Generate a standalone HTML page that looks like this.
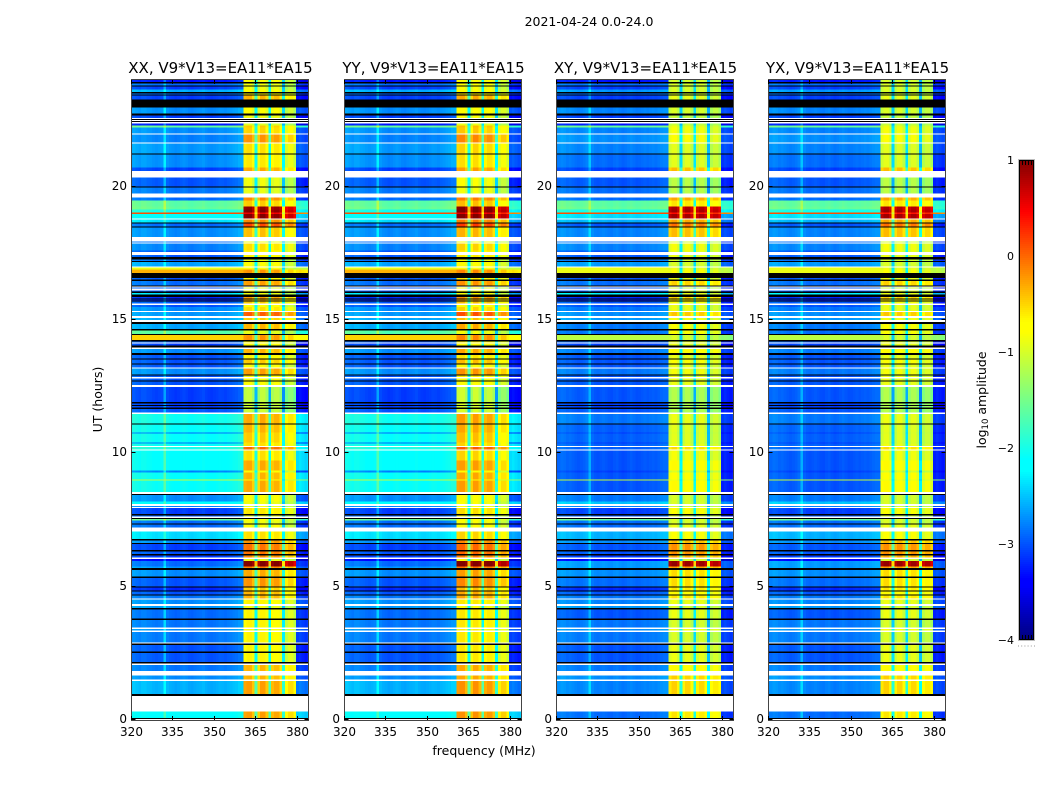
<!DOCTYPE html>
<html lang="en">
<head>
<meta charset="utf-8">
<title>Spectrogram 2021-04-24</title>
<style>
html,body{margin:0;padding:0;background:#fff;width:1050px;height:800px;overflow:hidden}
svg{display:block}
text{font-family:"DejaVu Sans","Liberation Sans",sans-serif;fill:#000}
</style>
</head>
<body>
<svg id="chart" width="1050" height="800" viewBox="0 0 1050 800" xmlns="http://www.w3.org/2000/svg">
<text x="589" y="26" text-anchor="middle" font-size="12.5">2021-04-24 0.0-24.0</text>
<text x="484" y="755" text-anchor="middle" font-size="12.5">frequency (MHz)</text>
<text x="102" y="399.5" text-anchor="middle" font-size="12.5" transform="rotate(-90 102 399.5)">UT (hours)</text>
<text x="986" y="400" text-anchor="middle" font-size="12.5" transform="rotate(-90 986 400)">log<tspan font-size="8.5" dy="2">10</tspan><tspan dy="-2"> amplitude</tspan></text>
</svg>
<script>
const W = null;
const K = -9;

/* Polarisation panels */
const panelTitles = ["XX, V9*V13=EA11*EA15", "YY, V9*V13=EA11*EA15", "XY, V9*V13=EA11*EA15", "YX, V9*V13=EA11*EA15"];
const panelNames = ["xx", "yy", "xy", "yx"];
const panelLefts = [131.5, 344.5, 556.5, 768.5];

/* Axis tick labels */
const freqTicks = [320, 335, 350, 365, 380];
const utTicks = [0, 5, 10, 15, 20];
const colorbarTicks = [1, 0, -1, -2, -3, -4];
const colorbarMinorTicks = [0.2, 0.4, 0.6, 0.8];

/* Lower edge (UT hours) of each time row, top of the plot downward; the first row starts at 24 h */
const rowBottoms = [
23.925,23.869,23.794,23.756,23.644,23.55,23.494,23.456,23.419,23.269,
22.969,22.744,22.669,22.575,22.538,22.5,22.463,22.425,22.369,22.294,
22.219,21.994,21.956,21.656,21.619,21.244,21.206,20.719,20.588,20.344,
20.006,19.969,19.744,19.594,19.481,19.256,19.144,19.031,18.975,18.806,
18.769,18.656,18.619,18.506,18.469,18.113,17.944,17.906,17.869,17.606,
17.55,17.438,17.363,17.269,17.213,17.175,17.006,16.969,16.894,16.755,
16.575,16.519,16.463,16.294,16.256,16.219,16.181,16.106,16.069,16.013,
15.956,15.863,15.806,15.769,15.731,15.694,15.619,15.563,15.488,15.338,
15.3,15.143,15.068,14.993,14.918,14.858,14.655,14.606,14.475,14.438,
14.258,14.194,14.156,14.119,14.044,13.969,13.913,13.763,13.688,13.556,
13.519,13.369,13.331,13.219,13.181,12.956,12.919,12.863,12.806,12.731,
12.694,12.563,12.488,11.925,11.869,11.82,11.775,11.719,11.67,11.531,
11.475,11.119,11.081,10.781,10.744,10.406,10.369,10.283,10.238,10.144,
10.106,9.731,9.356,9.281,9.019,8.981,8.543,8.475,8.438,8.194,
8.1,8.025,7.988,7.95,7.725,7.669,7.631,7.575,7.538,7.481,
7.369,7.331,7.219,7.069,6.78,6.731,6.645,6.6,6.375,6.319,
6.225,6.169,6.094,6.038,5.955,5.756,5.7,5.625,5.381,5.325,
5.006,4.969,4.856,4.819,4.706,4.669,4.556,4.519,4.35,4.275,
4.2,4.144,3.806,3.75,3.469,3.413,3.356,3.3,2.906,2.869,
2.813,2.569,2.513,2.175,2.119,2.063,1.838,1.669,1.519,1.463,
0.975,0.9,0.319,0.075,0.038,0
];

/* log10 amplitude below 360 MHz, XX and YY hands (W = flagged white, K = black) */
const parallelBase = [
-3.3,K,-2.9,K,-3.1,-2.6,K,-2.9,K,-3.1,
K,-2.75,K,-3.1,W,K,W,K,W,-3.3,
-1.6,-2.75,W,-2.8,W,-2.7,K,-2.75,-3.1,W,
-3,K,-2.85,W,-2.9,-1.65,-1.6,-2.05,0.1,-2.2,
W,-2.4,K,-2.9,K,-2.75,W,-2.9,W,-2.8,
-3,W,-3,K,-2.9,K,-2.65,W,-0.9,-0.35,
K,-3,K,-2.9,K,W,-3,W,-3,K,
-2.4,K,-3.2,K,-3.2,K,-3,W,-3,-2.75,
W,-2.7,W,-2.65,W,K,-2.65,K,-1.7,K,
-0.5,K,-3,W,-3.1,K,W,-2.75,K,-3,
K,-3,K,-3,W,-2.75,K,-3,W,-3,
K,-3,W,-3.1,K,-3.1,K,-3.1,K,-3,
W,-2.05,K,-2.1,-2.9,-2.1,-2.9,-2.1,W,-2,
W,-2.15,-2.15,-2.8,-2.1,-1.1,-2.1,W,K,-2.75,
-2.2,W,-2.8,W,-3.1,K,-3,W,K,-1.6,
-2.9,K,-2.9,W,-2.4,K,-2.75,K,-3.1,K,
-3,K,-3.1,W,-3.4,-2.9,-2.7,K,-2.75,K,
-3,K,-3.2,K,-3,K,-2.85,W,-2.75,W,
-2.7,K,-2.9,K,-2.85,W,-2.75,W,-2.85,W,
K,-3,K,-3,K,W,-2.85,W,-2.75,W,
-2.6,K,W,-2.2,K,W
];

/* log10 amplitude across the 360-380 MHz bright band, XX and YY hands */
const parallelBand = [
-0.9,K,-1,K,-1,-0.9,K,-0.8,K,-0.5,
K,-0.9,K,-1,W,K,W,K,W,-1.1,
-0.6,-0.65,W,-0.35,W,-0.7,K,-0.75,-0.45,W,
-1,K,-1.05,W,-0.3,-0.6,0.8,0.85,0.4,0.85,
W,-0.3,K,0,K,-0.55,W,-1,W,-0.7,
-0.8,W,-0.8,K,-1,K,-0.9,W,-0.9,-0.35,
K,-0.8,K,-0.4,K,W,-1,W,-0.9,K,
-1,K,-0.4,K,-0.5,K,-0.6,W,-0.9,-0.7,
W,-0.1,W,-0.6,W,K,-0.5,K,-1.05,K,
-0.35,K,-0.8,W,-0.9,K,W,-0.5,K,-0.8,
K,-0.6,K,-0.9,W,-0.4,K,-0.8,W,-0.9,
K,-0.9,W,-1.25,K,-1.2,K,-1.2,K,-1.2,
W,-0.45,K,-0.5,-0.6,-0.6,-0.7,-0.7,W,-0.15,
W,-0.7,-0.45,-0.9,-0.5,-0.9,-0.45,W,K,-0.9,
-1,W,-1,W,-0.75,K,-1,W,K,-0.9,
-1,K,-0.9,W,-0.7,K,-0.35,K,-0.2,K,
-0.2,K,-0.3,W,-1,0.9,-0.25,K,-0.45,K,
-0.35,K,-0.6,K,-0.5,K,-0.5,W,-0.8,W,
-1,K,-0.8,K,-0.8,W,-0.8,W,-0.8,W,
K,-0.8,K,-0.8,K,W,-0.5,W,-0.5,W,
-0.4,K,W,-0.4,K,W
];

/* log10 amplitude below 360 MHz, XY and YX hands */
const crossBase = [
-3.3,K,-2.9,K,-3.1,-2.7,K,-2.9,K,-3.1,
K,-2.8,K,-3.1,W,K,W,K,W,-3.3,
-1.6,-2.8,W,-2.75,W,-2.8,K,-2.9,-3.1,W,
-3,K,-2.9,W,-2.9,-1.65,-1.6,-2.05,0.1,-2.4,
W,-2.6,K,-3,K,-2.8,W,-2.9,W,-2.8,
-3,W,-3,K,-2.9,K,-2.7,W,-0.9,-0.9,
K,-3,K,-2.9,K,W,-3,W,-3,K,
-2.3,K,-3.2,K,-3.2,K,-3,W,-3,-2.85,
W,-2.75,W,-2.7,W,K,-2.85,K,-2.9,K,
-1.15,K,-3,W,-3.1,K,W,-2.85,K,-3,
K,-3,K,-3,W,-2.85,K,-3,W,-3,
K,-3,W,-3,K,-3.1,K,-3.1,K,-3,
W,-2.85,K,-2.95,-3.1,-2.95,-3.1,-2.95,W,-2.95,
W,-3,-3,-3.1,-3,-1.1,-3,W,K,-2.85,
-2.5,W,-2.8,W,-3.1,K,-3,W,K,-1.6,
-2.9,K,-2.9,W,-2.6,K,-2.75,K,-3,K,
-3,K,-3.1,W,-3.4,-2.7,-2.7,K,-2.75,K,
-2.9,K,-3.2,K,-3,K,-2.85,W,-2.8,W,
-2.7,K,-3,K,-2.85,W,-2.75,W,-2.85,W,
K,-3,K,-3,K,W,-2.85,W,-2.75,W,
-2.8,K,W,-2.9,K,W
];

/* log10 amplitude across the 360-380 MHz bright band, XY and YX hands */
const crossBand = [
-1,K,-1,K,-1,-1,K,-1,K,-0.9,
K,-1,K,-1.1,W,K,W,K,W,-1.1,
-0.9,-0.85,W,-0.8,W,-0.95,K,-0.95,-0.4,W,
-1.15,K,-1.15,W,-0.3,-0.6,0.8,0.85,0.4,0.85,
W,-0.3,K,-0.05,K,-0.4,W,-1,W,-0.85,
-0.9,W,-0.9,K,-1,K,-1,W,-0.9,-0.8,
K,-0.9,K,-0.5,K,W,-1,W,-0.9,K,
-0.9,K,-0.5,K,-0.6,K,-0.8,W,-0.9,-0.9,
W,-0.45,W,-0.85,W,K,-0.8,K,-0.8,K,
-1,K,-0.9,W,-0.9,K,W,-0.7,K,-0.9,
K,-0.8,K,-0.9,W,-0.85,K,-0.9,W,-0.9,
K,-0.9,W,-1.2,K,-1.2,K,-1.2,K,-1.2,
W,-0.9,K,-0.95,-1,-0.95,-1,-0.9,W,-0.55,
W,-0.85,-0.7,-1,-0.75,-0.9,-0.7,W,K,-1,
-1,W,-1,W,-0.8,K,-1,W,K,-1,
-1,K,-0.9,W,-0.8,K,-0.4,K,-0.2,K,
-0.2,K,-0.3,W,-1,0.9,-0.25,K,-0.55,K,
-0.55,K,-0.6,K,-0.7,K,-0.6,W,-0.9,W,
-1,K,-0.9,K,-1,W,-0.8,W,-1,W,
K,-0.9,K,-0.9,K,W,-0.7,W,-0.5,W,
-0.5,K,W,-0.6,K,W
];

/* Per-channel offsets relative to a row's level: channels 320-360, 361-379, 380-384 MHz */
const parallelBaseProfile = [0.1,0.12,0.08,0.05,0.1,0.1,0.06,0.05,0.02,0,0.02,0.05,0.45,0.05,0,-0.02,-0.05,-0.03,0,0.03,0,-0.04,-0.05,-0.02,0,0.02,0.05,0,-0.03,-0.04,-0.02,0,0.03,0.02,0,0.03,0.05,0.08,0.1,0.15,0.15];
const crossBaseProfile = [0.05,0.08,0.12,0.1,0.06,0.08,0.05,0.02,0,0.02,0.05,0.1,0.4,0.05,0,-0.02,0,0.02,0,-0.03,-0.04,0,0.02,-0.02,-0.05,-0.03,0,0.03,0,-0.03,-0.02,0,0.02,0,0.02,0.04,0.02,0.05,0.08,0.1,0.1];
const parallelBandProfile = [0.1,0.15,0.15,-0.05,-1.3,-0.1,0.15,0.15,-0.05,-1.35,0,0.1,0.1,-0.1,-1.5,-0.3,-0.15,-0.15,-0.35];
const crossBandProfile = [-0.1,0.02,0.02,-0.15,-1.45,-0.15,0,0,-0.2,-1.4,-0.15,-0.02,-0.02,-0.2,-1.6,-0.25,-0.12,-0.12,-0.3];
const tailProfile = [-0.25,-0.2,-0.25,-0.3,-0.25];
const panelBandOffsets = [0, 0.06, 0, 0];

/* Matplotlib jet colormap anchors: position, red, green, blue */
const jetPositions = [0, 0.11, 0.125, 0.35, 0.375, 0.64, 0.66, 0.89, 1];
const jetReds = [0, 0, 0, 0, 0, 1, 1, 1, 0.5];
const jetGreens = [0, 0, 0, 1, 1, 1, 1, 0, 0];
const jetBlues = [0.5, 1, 1, 1, 1, 0, 0, 0, 0];
const colorMin = -4;
const colorMax = 1;

const svgNS = "http://www.w3.org/2000/svg";
const chart = document.getElementById("chart");
const plotTop = 80;
const plotBottom = 720;
const plotWidth = 177;
const channelCount = 65;
const freqMin = 320;
const freqMax = 384;
const utMax = 24;
const barLeft = 1019;
const barWidth = 15;
const barTop = 160;
const barBottom = 640;

function yScale(hours) {
  return plotBottom - (hours / utMax) * (plotBottom - plotTop);
}
function xScale(left, freq) {
  return left + (freq - freqMin) / (freqMax - freqMin) * plotWidth;
}
function barScale(value) {
  return barBottom - (value - colorMin) / (colorMax - colorMin) * (barBottom - barTop);
}
function crisp(position) {
  return Math.round(position - 0.5) + 0.5;
}
function lerpStops(t, channel) {
  for (let i = 1; i < jetPositions.length; i++) {
    if (t <= jetPositions[i]) {
      const f = (t - jetPositions[i - 1]) / (jetPositions[i] - jetPositions[i - 1]);
      return channel[i - 1] + f * (channel[i] - channel[i - 1]);
    }
  }
  return channel[channel.length - 1];
}
function jetColor(value) {
  if (value < colorMin) return "#000";
  const t = Math.min(1, (value - colorMin) / (colorMax - colorMin));
  const r = Math.round(255 * lerpStops(t, jetReds));
  const g = Math.round(255 * lerpStops(t, jetGreens));
  const b = Math.round(255 * lerpStops(t, jetBlues));
  return "rgb(" + r + "," + g + "," + b + ")";
}
function make(tag, attrs, parent) {
  const el = document.createElementNS(svgNS, tag);
  for (const key in attrs) el.setAttribute(key, attrs[key]);
  parent.appendChild(el);
  return el;
}
function cellValue(panel, row, channel) {
  const isParallel = panel < 2;
  const base = isParallel ? parallelBase[row] : crossBase[row];
  const band = isParallel ? parallelBand[row] : crossBand[row];
  if (base === W) return W;
  if (base === K) return K;
  if (channel <= 40) {
    const profile = isParallel ? parallelBaseProfile : crossBaseProfile;
    return base < -1.2 ? base + profile[channel] : base;
  }
  if (channel < 60) return band + panelBandOffsets[panel] + (isParallel ? parallelBandProfile : crossBandProfile)[channel - 41];
  return base + tailProfile[channel - 60];
}

panelLefts.forEach(function (left, panel) {
  const group = make("g", {}, chart);
  
  

  const title = make("text", { x: left + plotWidth / 2 + 0.5, y: 73, "text-anchor": "middle", "font-size": 15 }, group);
  
  
  title.textContent = panelTitles[panel];

  const cells = make("g", { "shape-rendering": "crispEdges" }, group);
  
  

  rowBottoms.forEach(function (bottom, row) {
    const top = row === 0 ? utMax : rowBottoms[row - 1];
    const y0 = yScale(top);
    const h = yScale(bottom) - y0;
    for (let ch = 0; ch < channelCount; ch++) {
      const value = cellValue(panel, row, ch);
      if (value === W) continue;
      const centre = freqMin + ch;
      const x0 = xScale(left, Math.max(freqMin, centre - 0.5));
      const x1 = xScale(left, Math.min(freqMax, centre + 0.5));
      const cell = make("rect", { x: x0, y: y0, width: x1 - x0, height: h, fill: jetColor(value) }, cells);
      
      
    }
  });

  const frame = make("rect", { x: left, y: plotTop - 0.5, width: plotWidth, height: plotBottom - plotTop + 1, fill: "none", stroke: "#444", "stroke-width": 1 }, group);
  
  

  freqTicks.forEach(function (freq) {
    const x = crisp(xScale(left, freq));
    const tickBottom = make("line", { x1: x, x2: x, y1: plotBottom, y2: plotBottom - 4, stroke: "#000", "stroke-width": 1 }, group);
    
    
    const tickTop = make("line", { x1: x, x2: x, y1: plotTop, y2: plotTop + 4, stroke: "#000", "stroke-width": 1 }, group);
    
    
    const label = make("text", { x: x, y: 736, "text-anchor": "middle", "font-size": 12 }, group);
    
    
    label.textContent = freq;
  });

  utTicks.forEach(function (hour) {
    const y = crisp(yScale(hour) - 0.5);
    const tickLeft = make("line", { x1: left, x2: left + 4, y1: y, y2: y, stroke: "#000", "stroke-width": 1 }, group);
    
    
    const tickRight = make("line", { x1: left + plotWidth, x2: left + plotWidth - 4, y1: y, y2: y, stroke: "#000", "stroke-width": 1 }, group);
    
    
    const label = make("text", { x: left - 4.5, y: y + 3.5, "text-anchor": "end", "font-size": 12 }, group);
    
    
    label.textContent = hour;
  });
});

/* Colorbar */
const colorbar = make("g", {}, chart);


const barGradient = make("g", { "shape-rendering": "crispEdges" }, colorbar);


for (let step = 0; step < 240; step++) {
  const low = colorMin + step * (colorMax - colorMin) / 240;
  const high = colorMin + (step + 1) * (colorMax - colorMin) / 240;
  const swatch = make("rect", { x: barLeft, y: barScale(high), width: barWidth, height: barScale(low) - barScale(high), fill: jetColor(low) }, barGradient);
  
  
}
const barInner = make("rect", { x: barLeft + 0.5, y: barTop + 0.5, width: barWidth - 1, height: barBottom - barTop - 1, fill: "none", stroke: "#000", "stroke-width": 1 }, colorbar);


const barOuter = make("rect", { x: barLeft - 0.5, y: barTop - 0.5, width: barWidth + 1, height: barBottom - barTop + 1, fill: "none", stroke: "#bdbdbd", "stroke-width": 1 }, colorbar);


colorbarTicks.forEach(function (value) {
  const label = make("text", { x: barLeft - 5, y: barScale(value) + 4, "text-anchor": "end", "font-size": 11 }, colorbar);
  
  
  label.textContent = String(value).replace("-", "\u2212");
});
colorbarMinorTicks.forEach(function (fraction) {
  const x = crisp(barLeft + fraction * barWidth);
  const top = make("line", { x1: x, x2: x, y1: barTop, y2: barTop + 5, stroke: "#000", "stroke-width": 1 }, colorbar);
  
  
  const bottom = make("line", { x1: x, x2: x, y1: barBottom, y2: barBottom - 5, stroke: "#000", "stroke-width": 1 }, colorbar);
  
  
});
[0, 0.2, 0.4, 0.6, 0.8, 1].forEach(function (fraction) {
  const dot = make("rect", { x: barLeft - 1 + fraction * (barWidth + 1), y: 645.5, width: 1, height: 1, fill: "#9a9a9a" }, colorbar);
  
  
});
</script>
</body>
</html>
